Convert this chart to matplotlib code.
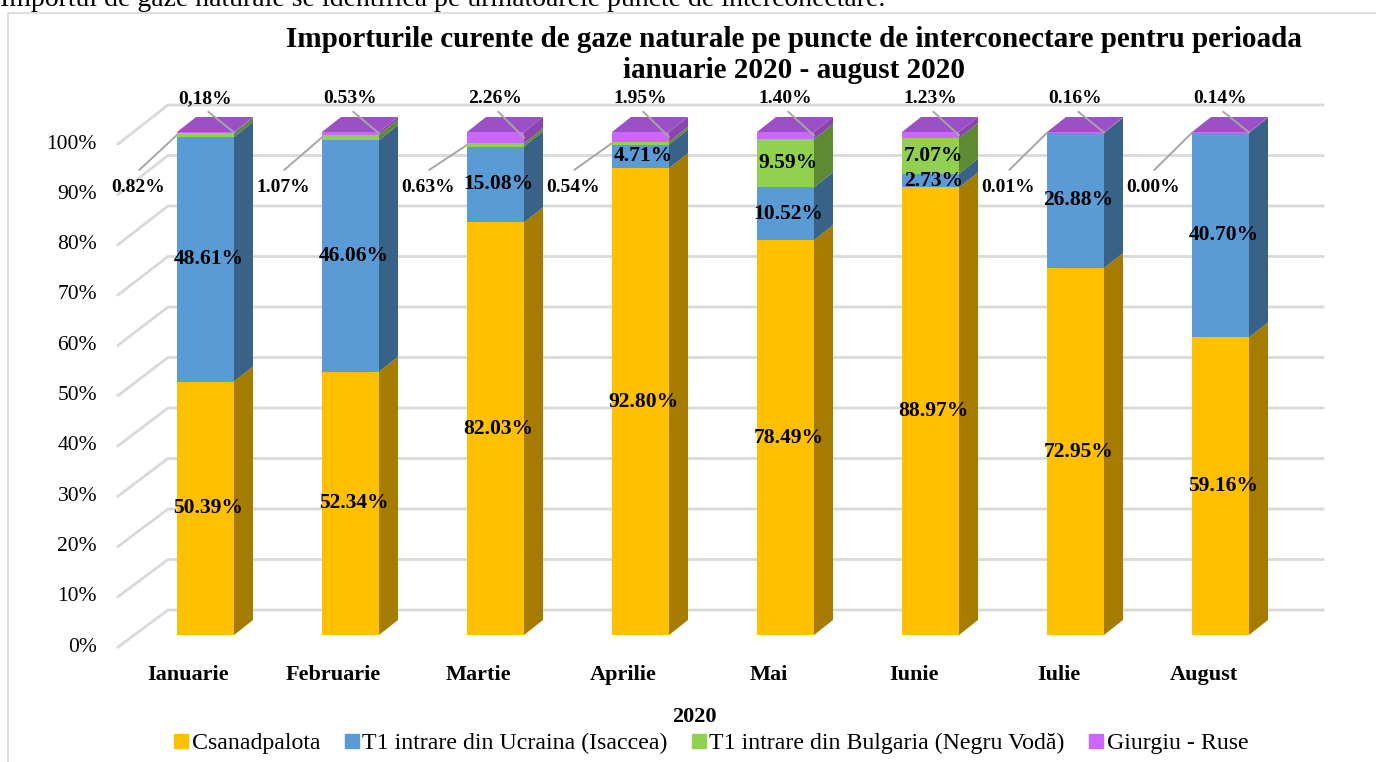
import matplotlib.pyplot as plt
from matplotlib.patches import Polygon, Rectangle
from matplotlib.lines import Line2D

plt.rcParams['font.family'] = ['Liberation Serif', 'DejaVu Serif']

# date (procente)
months = ['Ianuarie', 'Februarie', 'Martie', 'Aprilie', 'Mai', 'Iunie', 'Iulie', 'August']
csanadpalota = [50.39, 52.34, 82.03, 92.80, 78.49, 88.97, 72.95, 59.16]
ucraina = [48.61, 46.06, 15.08, 4.71, 10.52, 2.73, 26.88, 40.70]
bulgaria = [0.82, 1.07, 0.63, 0.54, 9.59, 7.07, 0.01, 0.00]
giurgiu = [0.18, 0.53, 2.26, 1.95, 1.40, 1.23, 0.16, 0.14]
giurgiu_labels = ['0,18%', '0.53%', '2.26%', '1.95%', '1.40%', '1.23%', '0.16%', '0.14%']
series_names = ['Csanadpalota', 'T1 intrare din Ucraina (Isaccea)',
                'T1 intrare din Bulgaria (Negru Vodă)', 'Giurgiu - Ruse']
y_ticks = list(range(0, 101, 10))

front_cols = ['#FFC000', '#5B9BD5', '#92D050', '#CC66FF']
side_cols = ['#A67C00', '#386288', '#5E8A33', '#8A45AD']
top_cols = ['#E0A800', '#4A86BE', '#7DB843', '#9B50C5']

fig = plt.figure(figsize=(13.76, 7.62), dpi=100)
ax = fig.add_axes([0, 0, 1, 1])
# 1 unitate x = 145 px, 1% = 5.03 px
ax.set_xlim(-205.5 / 145, (1376 - 205.5) / 145)
ax.set_ylim((635 - 762) / 5.03, 635 / 5.03)
ax.axis('off')

w = 57 / 145          # latimea barei
ddx, ddy = 19 / 145, 15 / 5.03   # adancimea barei
grid_col = '#D9D9D9'

# pereti cu linii de grila (3D)
wall_x0, wall_x1, wall_front = -0.259, 7.707, -0.603
for v in y_ticks:
    gy = (25 + 5.05 * v) / 5.03
    fy = v - 2.39
    ax.plot([wall_front, wall_x0, wall_x1], [fy, gy, gy], color=grid_col, lw=2, zorder=1,
            solid_joinstyle='miter')
    ax.text(-0.748, fy, f'{v}%', ha='right', va='center', fontsize=15.5)

# bare stivuite
series = [csanadpalota, ucraina, bulgaria, giurgiu]
x = list(range(len(months)))
bottoms = [0.0] * len(months)
for k, vals in enumerate(series):
    ax.bar(x, vals, width=w, bottom=bottoms, color=front_cols[k], zorder=3, linewidth=0)
    for i, v in enumerate(vals):
        if v <= 0:
            continue
        b, t = bottoms[i], bottoms[i] + v
        xr = i + w / 2
        ax.add_patch(Polygon([(xr, b), (xr + ddx, b + ddy), (xr + ddx, t + ddy), (xr, t)],
                             closed=True, facecolor=side_cols[k], edgecolor='none', zorder=3))
    bottoms = [bottoms[i] + vals[i] for i in range(len(months))]

# fata de sus
for i in x:
    T = bottoms[i]
    xl, xr = i - w / 2, i + w / 2
    ax.add_patch(Polygon([(xl, T), (xr, T), (xr + ddx, T + ddy), (xl + ddx, T + ddy)],
                         closed=True, facecolor=top_cols[3], edgecolor='none', zorder=4))

# etichete
lead_col = '#A6A6A6'
for i in x:
    c, u, bg, gg = csanadpalota[i], ucraina[i], bulgaria[i], giurgiu[i]
    ax.text(i + 0.02, c / 2, f'{c:.2f}%', ha='center', va='center', fontsize=15.5,
            fontweight='bold', zorder=6)
    ax.text(i + 0.02, c + u / 2, f'{u:.2f}%', ha='center', va='center', fontsize=15.5,
            fontweight='bold', zorder=6)
    if bg >= 2:
        ax.text(i + 0.02, c + u + bg / 2, f'{bg:.2f}%', ha='center', va='center',
                fontsize=15.5, fontweight='bold', zorder=6)
    else:
        ym = c + u + bg / 2
        ax.plot([i - 0.455, i - w / 2], [92.5, ym], color=lead_col, lw=1.4, zorder=5)
        ax.text(i - 0.465, 89.0, f'{bg:.2f}%', ha='center', va='center', fontsize=14,
                fontweight='bold', zorder=6)
    ym = 100 - gg / 2
    ax.plot([i + 0.02, i + w / 2], [104.0, ym], color=lead_col, lw=1.4, zorder=5)
    ax.text(i, 106.7, giurgiu_labels[i], ha='center', va='center', fontsize=14,
            fontweight='bold', zorder=6)
    ax.text(i - 0.117, -7.95, months[i], ha='center', va='center', fontsize=16,
            fontweight='bold')

# titlu si text
fig.text(0.0, 1 - 6 / 762, 'Importul de gaze naturale se identifica pe urmatoarele puncte de interconectare.',
         ha='left', va='baseline', fontsize=20)
fig.text(794 / 1376, 1 - 55 / 762,
         'Importurile curente de gaze naturale pe puncte de interconectare pentru perioada\nianuarie 2020 - august 2020',
         ha='center', va='center', fontsize=21, fontweight='bold', linespacing=1.15)
fig.text(694 / 1376, 1 - 717 / 762, '2020', ha='center', va='center', fontsize=16,
         fontweight='bold')
fig.add_artist(Rectangle((8 / 1376, -0.01), 1.0, 1 - 13 / 762 + 0.01, transform=fig.transFigure,
                         fill=False, edgecolor=grid_col, lw=1.2))

handles = [Line2D([], [], marker='s', linestyle='none', markersize=10,
                  markerfacecolor=col, markeredgecolor=col) for col in front_cols]
fig.legend(handles, series_names, loc='center', bbox_to_anchor=(710 / 1376, 1 - 743 / 762),
           ncol=4, frameon=False, fontsize=17.2, handletextpad=0.05, columnspacing=0.9,
           handlelength=0.8, borderaxespad=0)

fig.savefig('out.png', dpi=100)
